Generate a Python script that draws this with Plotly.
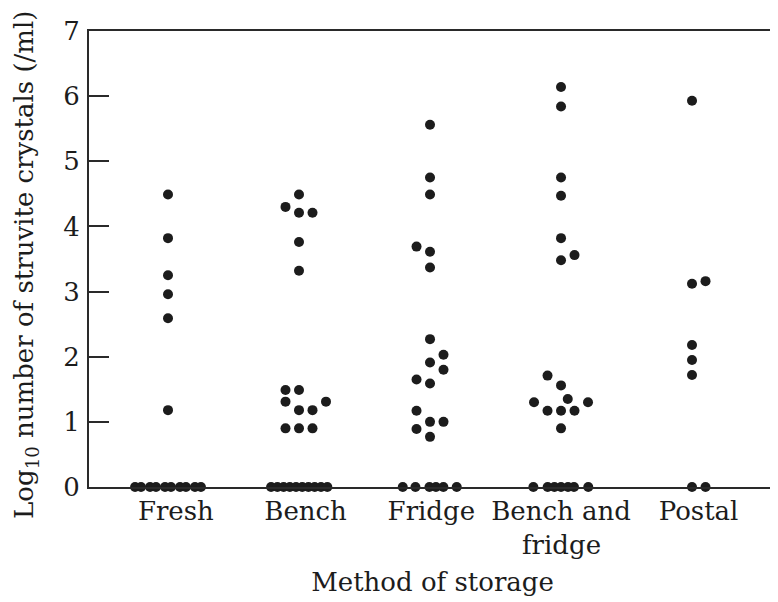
import plotly.graph_objects as go

# ---- data ----
categories = ["Fresh", "Bench", "Fridge", "Bench and", "Postal"]
category_second_line = ["", "", "", "fridge", ""]

fresh_values = [4.49, 3.82, 3.25, 2.96, 2.59, 1.18, 0, 0, 0, 0, 0, 0, 0, 0, 0, 0]
fresh_slots = [0, 0, 0, 0, 0, 0, -2.44, -2.0, -1.33, -0.89, -0.22, 0.22, 0.89, 1.33, 2.0, 2.44]

bench_values = [4.49, 4.30, 4.21, 4.21, 3.76, 3.32, 1.49, 1.49, 1.31, 1.31, 1.18, 1.18,
                0.90, 0.90, 0.90, 0, 0, 0, 0, 0, 0, 0, 0, 0, 0]
bench_slots = [0, -1, 0, 1, 0, 0, -1, 0, -1, 2, 0, 1, -1, 0, 1,
               -2.07, -1.6, -1.14, -0.68, -0.22, 0.24, 0.7, 1.16, 1.63, 2.1]

fridge_values = [5.56, 4.75, 4.49, 3.69, 3.61, 3.37, 2.27, 2.03, 1.91, 1.80, 1.65, 1.59,
                 1.17, 1.00, 1.00, 0.89, 0.77, 0, 0, 0, 0, 0, 0]
fridge_slots = [0, 0, 0, -1, 0, 0, 0, 1, 0, 1, -1, 0, -1, 0, 1, -1, 0,
                -2.02, -1.08, -0.04, 0.44, 0.99, 1.98]

bench_fridge_values = [6.14, 5.84, 4.75, 4.47, 3.82, 3.48, 3.56, 1.71, 1.56, 1.30, 1.35, 1.30,
                       1.17, 1.17, 1.17, 0.90, 0, 0, 0, 0, 0, 0, 0]
bench_fridge_slots = [0, 0, 0, 0, 0, 0, 1, -1, 0, -2, 0.5, 2, -1, 0, 1, 0,
                      -2.05, -0.99, -0.49, 0, 0.52, 0.96, 2.02]

postal_values = [5.93, 3.12, 3.16, 2.18, 1.95, 1.72, 0, 0]
postal_slots = [0, 0, 1, 0, 0, 0, 0, 1]

groups = [
    (fresh_values, fresh_slots),
    (bench_values, bench_slots),
    (fridge_values, fridge_slots),
    (bench_fridge_values, bench_fridge_slots),
    (postal_values, postal_slots),
]

y_ticks = [0, 1, 2, 3, 4, 5, 6, 7]
y_title = "Log<sub>10</sub> number of struvite crystals (/ml)"
x_title = "Method of storage"

# ---- layout constants ----
SLOT = 0.103                                 # swarm step (category units)
LABEL_NUDGE = [0.06, 0.05, 0.01, 0.0, 0.05]  # small label shifts seen in reference

xs, ys = [], []
for i, (vals, slots) in enumerate(groups):
    for v, s in zip(vals, slots):
        xs.append(i + s * SLOT)
        ys.append(v)

FONT = "DejaVu Serif"
INK = "#1c1c1c"
LINE = "#2a2a2a"
FS = 26

fig = go.Figure(
    go.Scatter(
        x=xs, y=ys, mode="markers",
        marker=dict(size=10, color=INK, line=dict(width=0)),
        cliponaxis=False, hoverinfo="y",
    )
)

tick_pos = [i + n for i, n in enumerate(LABEL_NUDGE)]

fig.update_layout(
    width=770, height=594,
    margin=dict(l=81, r=2, t=23, b=115),
    paper_bgcolor="white", plot_bgcolor="white",
    showlegend=False,
    font=dict(family=FONT, size=FS, color=INK),
)

for pos, txt in zip(tick_pos, category_second_line):
    if txt:
        fig.add_annotation(
            x=pos, xref="x", y=-0.128, yref="paper",
            text=txt, showarrow=False, xanchor="center", yanchor="middle",
            font=dict(family=FONT, size=FS, color=INK),
        )

# y-axis title as a rotated annotation so it can sit where the reference has it
fig.add_annotation(
    x=-0.0917, xref="paper", y=0.487, yref="paper",
    text=y_title, textangle=-90, showarrow=False,
    xanchor="center", yanchor="middle", borderpad=0,
    font=dict(family=FONT, size=FS, color=INK),
)

fig.update_xaxes(
    range=[-0.603, 4.641], automargin=False,
    tickvals=tick_pos, ticktext=categories,
    ticks="", showgrid=False, zeroline=False,
    showline=True, linecolor=LINE, linewidth=2, mirror=True,
    tickfont=dict(family=FONT, size=FS, color=INK),
    title=dict(text=x_title, font=dict(family=FONT, size=FS, color=INK), standoff=48),
)

fig.update_yaxes(
    range=[0, 7], tickvals=y_ticks, automargin=False,
    ticks="inside", ticklen=20, tickwidth=1.5, tickcolor=LINE,
    showgrid=False, zeroline=False,
    showline=True, linecolor=LINE, linewidth=2, mirror=True,
    tickfont=dict(family=FONT, size=FS, color=INK),
    ticklabelstandoff=2,
)

fig.write_html("out.html")
